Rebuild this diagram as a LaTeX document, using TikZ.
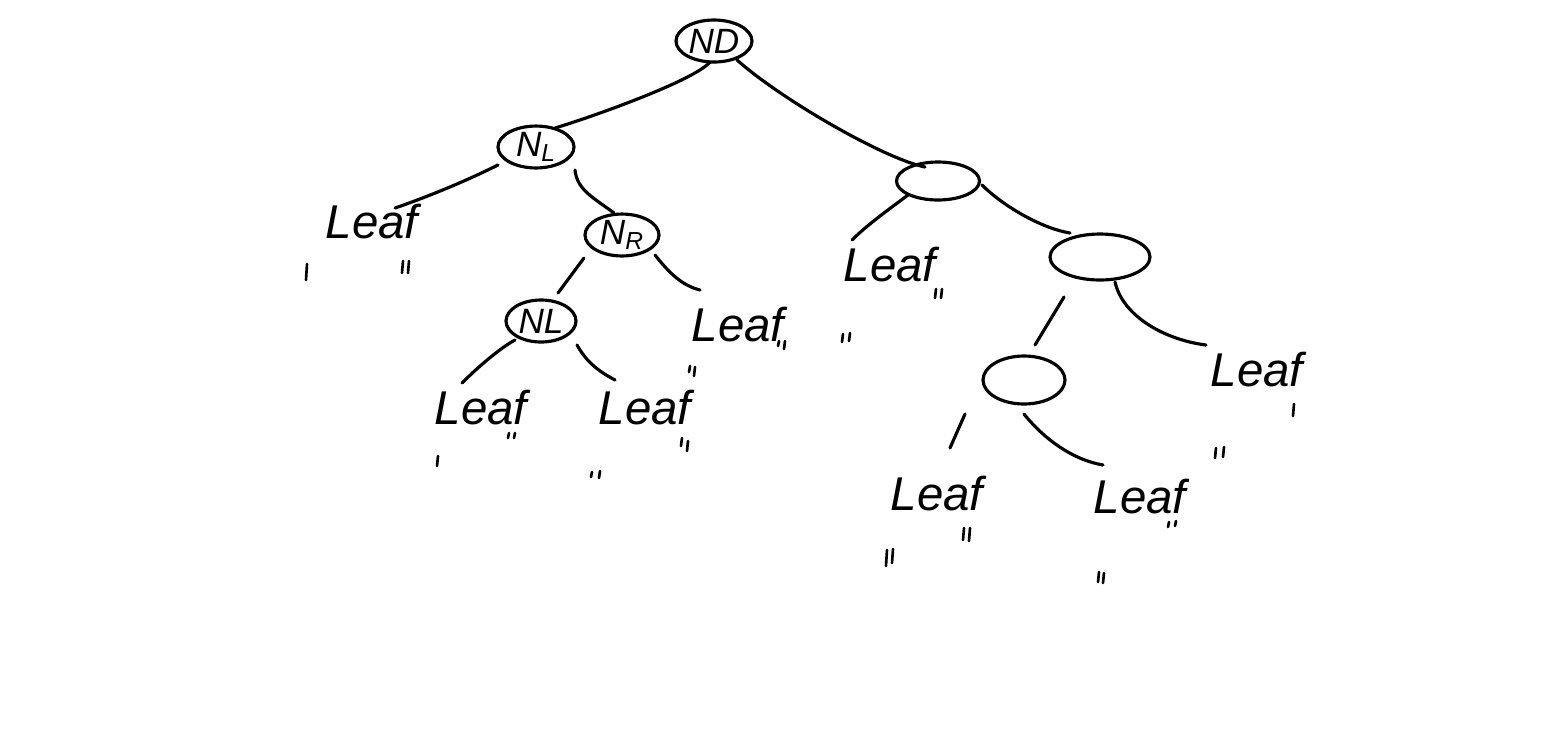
\documentclass[tikz,border=0pt]{standalone}
\usepackage{fontspec}
\setmainfont{Liberation Sans}
\usetikzlibrary{shapes.geometric,calc}
\begin{document}
\begin{tikzpicture}[x=0.02cm,y=-0.02cm,
  ink/.style={line width=1.8pt,line cap=round,line join=round},
  oval/.style={ellipse,draw,ink,inner sep=0pt,font=\fontsize{20}{22}\selectfont\itshape},
  leaf/.style={inner sep=0pt,font=\fontsize{27}{30}\selectfont\itshape},
  edge/.style={ink},
  tickmk/.style={line width=1.5pt,line cap=round}]
\useasboundingbox[fill=white] (0,0) rectangle (1543,755);
% inner nodes
\node[oval,minimum width=1.52cm,minimum height=0.84cm] (N0) at (714,41) {ND};
\node[oval,minimum width=1.52cm,minimum height=0.76cm] (NL) at (536,147) {N\textsubscript{L}};
\node[oval,minimum width=1.48cm,minimum height=0.80cm] (NR) at (622,235) {N\textsubscript{R}};
\node[oval,minimum width=1.40cm,minimum height=0.84cm] (NL2) at (541,321) {NL};
\node[oval,minimum width=1.66cm,minimum height=0.76cm] (E1) at (938,181) {};
\node[oval,minimum width=2.00cm,minimum height=0.92cm] (E2) at (1100,257) {};
\node[oval,minimum width=1.64cm,minimum height=0.96cm] (E3) at (1024,380) {};
% leaves
\node[leaf] (L1) at (372,222) {Leaf};
\node[leaf] (L2) at (738,325) {Leaf};
\node[leaf] (L3) at (481,408) {Leaf};
\node[leaf] (L4) at (645,408) {Leaf};
\node[leaf] (L5) at (890,265) {Leaf};
\node[leaf] (L6) at (1257,370) {Leaf};
\node[leaf] (L7) at (937,494) {Leaf};
\node[leaf] (L8) at (1140,497) {Leaf};
% connectors
\draw[edge] ($(N0)+(-4,21)$) .. controls +(-15,18) and +(40,-12) .. ($(NL)+(19,-19)$);
\draw[edge] ($(N0)+(23,19)$) .. controls +(45,40) and +(-40,-8) .. ($(E1)+(-13,-14)$);
\draw[edge] ($(NL)+(-38,18)$) .. controls +(-30,15) and +(35,-12) .. ($(L1)+(23,-14)$);
\draw[edge] ($(NL)+(39,23)$) .. controls +(2,20) and +(-20,-15) .. ($(NR)+(-8,-22)$);
\draw[edge] ($(NR)+(-38,23)$) -- ($(NL2)+(17,-28)$);
\draw[edge] ($(NR)+(33,20)$) .. controls +(12,15) and +(-20,-5) .. ($(L2)+(-38,-35)$);
\draw[edge] ($(NL2)+(-26,19)$) .. controls +(-15,8) and +(15,-15) .. ($(L3)+(-19,-25)$);
\draw[edge] ($(NL2)+(36,24)$) .. controls +(10,18) and +(-15,-8) .. ($(L4)+(-30,-28)$);
\draw[edge] ($(E1)+(-30,14)$) .. controls +(-20,15) and +(15,-15) .. ($(L5)+(-38,-25)$);
\draw[edge] ($(E1)+(44,4)$) .. controls +(20,20) and +(-30,-5) .. ($(E2)+(-30,-24)$);
\draw[edge] ($(E2)+(-36,40)$) -- ($(E3)+(11,-35)$);
\draw[edge] ($(E2)+(15,25)$) .. controls +(8,35) and +(-40,-5) .. ($(L6)+(-51,-25)$);
\draw[edge] ($(E3)+(-59,34)$) -- ($(L7)+(13,-46)$);
\draw[edge] ($(E3)+(0,34)$) .. controls +(20,25) and +(-30,-5) .. ($(L8)+(-37,-32)$);
% stray pen marks
\foreach \x/\y/\h in {307/264/16, 403/261/12, 409/261/12, 509/433/5, 515/433/5,
  438/456/10, 592/472/5, 600/471/7, 682/438/8, 688/441/10, 690/366/6, 695/367/9,
  779/341/5, 785/341/8, 843/334/8, 850/333/8, 936/289/9, 942/289/9,
  1294/404/12, 1216/448/10, 1224/447/10, 964/528/12, 970/528/13,
  887/550/16, 893/549/14, 1169/522/5, 1176/521/5, 1099/572/10, 1104/573/10}
  \draw[tickmk] (\x,\y) -- ++(-1,\h);
\end{tikzpicture}
\end{document}
